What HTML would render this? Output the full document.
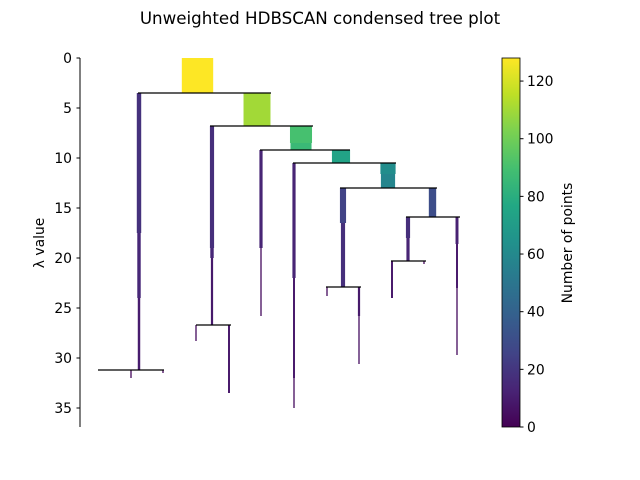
<!DOCTYPE html>
<html><head><meta charset="utf-8"><style>
body{margin:0;background:#fff}
svg{display:block;font-family:"DejaVu Sans","Liberation Sans",sans-serif}
</style></head><body>
<svg id="c" width="640" height="480" viewBox="0 0 640 480">
<text x="320" y="24" text-anchor="middle" font-size="16.7">Unweighted HDBSCAN condensed tree plot</text>
<g id="plot"></g>
<g id="yaxis"></g>
<text transform="translate(44,243) rotate(-90)" text-anchor="middle" font-size="13.9">λ value</text>
<defs><linearGradient id="vir" x1="0" y1="1" x2="0" y2="0"></linearGradient></defs>
<rect x="502" y="58" width="18" height="369" fill="url(#vir)" stroke="#000" stroke-width="0.8"/>
<g id="cbaxis"></g>
<text transform="translate(572,243) rotate(-90)" text-anchor="middle" font-size="13.9">Number of points</text>
</svg>
<script>
// branch segments: x position (axis units), lambda start, lambda end, cluster size
const segX =     [117.5, 59,59,59, 177, 132,132,132, 116,149, 51,83, 221,221, 181,181, 261, 214,214,214, 308,308, 263,263, 352.5, 247,279,279, 328,328, 377,377,377, 312,344];
const segStart = [0, 3.5,17.5,24, 3.5, 6.8,19,20, 26.7,26.7, 31.2,31.2, 6.8,8.5, 9.2,19, 9.2, 10.5,22,32, 10.5,11.6, 13,16.5, 13, 22.9,22.9,25.8, 15.9,18, 15.9,18.6,23, 20.3,20.3];
const segEnd =   [3.5, 17.5,24,31.2, 6.8, 19,20,26.7, 28.3,33.5, 32,31.5, 8.5,9.2, 19,25.8, 10.5, 22,32,35, 11.6,13, 16.5,22.9, 15.9, 23.8,25.8,30.6, 18,20.3, 18.6,23,29.7, 24,20.6];
const segSize =  [128, 18,14,10, 110, 17,14,9, 4,8, 3,3, 90,86, 13,4, 74, 13,8,4, 62,58, 25,17, 30, 4,9,5, 17,13, 12,8,4, 8,3];
// horizontal split lines: lambda, x1, x2 (axis units)
const splitLambda = [3.5, 31.2, 6.8, 26.7, 9.2, 10.5, 13, 22.9, 15.9, 20.3];
const splitX1 =     [58, 18, 130, 116, 180, 213, 260, 246, 326, 311];
const splitX2 =     [191, 84, 233, 151, 270, 316, 357, 281, 380, 346];
const yTicks = [0,5,10,15,20,25,30,35];
const cbTicks = [0,20,40,60,80,100,120];
const lambdaMax = 36.9, sizeMax = 128;

const NS="http://www.w3.org/2000/svg";
const vir=["#440154","#482475","#414487","#355f8d","#2a788e","#21918c","#22a884","#44bf70","#7ad151","#bddf26","#fde725"];
function hex(h){return [1,3,5].map(i=>parseInt(h.substr(i,2),16));}
function viridis(t){t=Math.max(0,Math.min(1,t));const p=t*10,i=Math.min(9,Math.floor(p)),f=p-i;const a=hex(vir[i]),b=hex(vir[i+1]);return "rgb("+a.map((v,k)=>Math.round(v+(b[k]-v)*f)).join(",")+")";}
const xS=v=>80+v, yS=l=>58+l/lambdaMax*369, cS=s=>427-s/sizeMax*369, wS=s=>Math.max(1.3,s*0.245);
function mk(tag,at,parent){const e=document.createElementNS(NS,tag);for(const k in at)e.setAttribute(k,at[k]);parent.appendChild(e);return e;}
const plot=document.getElementById('plot');
segX.forEach((x,i)=>{const w=wS(segSize[i]);
 const r=mk('rect',{x:xS(x)-w/2,y:yS(segStart[i]),width:w,height:yS(segEnd[i])-yS(segStart[i]),fill:viridis(segSize[i]/sizeMax)},plot);
 
 });
splitLambda.forEach((l,i)=>{const ln=mk('line',{x1:xS(splitX1[i]),x2:xS(splitX2[i]),y1:yS(l),y2:yS(l),stroke:'#000','stroke-width':1.2},plot);
 
 });
const ya=document.getElementById('yaxis');
const sp=mk('line',{x1:80,x2:80,y1:58,y2:427,stroke:'#000','stroke-width':1},ya);


yTicks.forEach(t=>{const y=yS(t);mk('line',{x1:76.5,x2:80,y1:y,y2:y,stroke:'#000'},ya);
 const tx=mk('text',{x:72,y:y+5,'text-anchor':'end','font-size':13.9},ya);tx.textContent=t;
 
 });
const g=document.getElementById('vir');
vir.forEach((c,i)=>mk('stop',{offset:i/10,'stop-color':c},g));
const ca=document.getElementById('cbaxis');
cbTicks.forEach(t=>{const y=cS(t);mk('line',{x1:520,x2:523.5,y1:y,y2:y,stroke:'#000'},ca);
 const tx=mk('text',{x:527,y:y+5,'font-size':13.9},ca);tx.textContent=t;
 
 });
</script>
</body></html>
